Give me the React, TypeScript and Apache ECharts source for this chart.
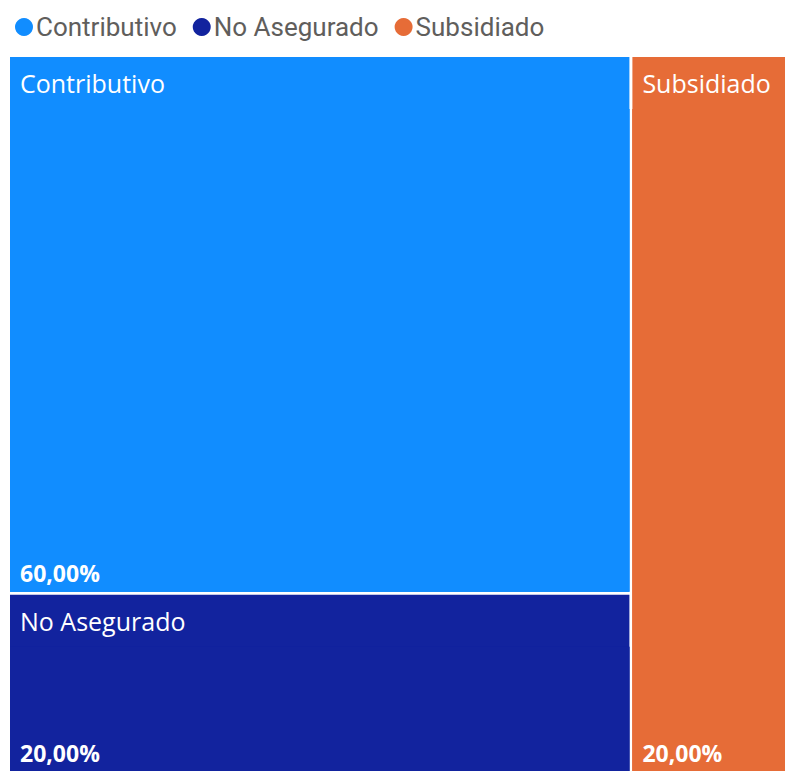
import React, { useEffect, useRef } from "react";
import * as echarts from "echarts";

const categories = ["Contributivo", "No Asegurado", "Subsidiado"];
const values = [60, 20, 20];
const colors = ["#118DFF", "#12239E", "#E66C37"];

const FONT = "'Open Sans', 'Noto Sans', sans-serif";
const LEGEND_FONT = "Roboto, 'Open Sans', sans-serif";

export default function App() {
  const ref = useRef<HTMLDivElement>(null);
  useEffect(() => {
    if (!ref.current) return;
    const chart = echarts.init(ref.current, undefined, { renderer: "svg" });
    const total = values.reduce((a, b) => a + b, 0);
    const fmtPct = (v: number) =>
      ((v / total) * 100).toFixed(2).replace(".", ",") + "%";
    const treeData = categories.map((name, i) => ({
      name,
      value: values[i],
      itemStyle: { color: colors[i], borderColor: colors[i] },
      children: [
        {
          name,
          value: values[i],
          itemStyle: { color: colors[i], borderColor: colors[i] },
        },
      ],
    }));
    chart.setOption({
      animation: false,
      legend: {
        show: true,
        left: 10,
        top: 9,
        icon: "circle",
        itemWidth: 18,
        itemHeight: 18,
        itemGap: 16,
        selectedMode: false,
        data: categories,
        textStyle: {
          fontSize: 26,
          color: "#605E5C",
          fontFamily: LEGEND_FONT,
          padding: [0, 0, 0, -2],
        },
      },
      series: [
        {
          type: "pie",
          radius: [0, 0],
          center: [-100, -100],
          silent: true,
          label: { show: false },
          labelLine: { show: false },
          data: categories.map((name, i) => ({
            name,
            value: values[i],
            itemStyle: { color: colors[i] },
          })),
        },
        {
          type: "treemap",
          left: 10,
          top: 57,
          right: 12,
          bottom: 12,
          roam: false,
          nodeClick: false,
          breadcrumb: { show: false },
          sort: false,
          silent: true,
          levels: [
            { itemStyle: { borderWidth: 0, gapWidth: 3 } },
            {
              itemStyle: { borderWidth: 0, gapWidth: 0 },
              upperLabel: {
                show: true,
                height: 52,
                color: "#fff",
                fontSize: 25,
                fontFamily: FONT,
                padding: [0, 0, 0, 10],
              },
            },
            {
              itemStyle: { borderWidth: 0, gapWidth: 0 },
              label: {
                show: true,
                position: "insideBottomLeft",
                distance: 5,
                color: "#fff",
                fontSize: 23,
                lineHeight: 17,
                fontWeight: "bold",
                fontFamily: FONT,
                formatter: (p: any) => fmtPct(p.value),
              },
            },
          ],
          data: treeData,
        },
      ],
    });
    return () => chart.dispose();
  }, []);
  return (
    <div
      ref={ref}
      style={{ position: "absolute", left: 0, top: 0, width: 797, height: 783 }}
    />
  );
}
